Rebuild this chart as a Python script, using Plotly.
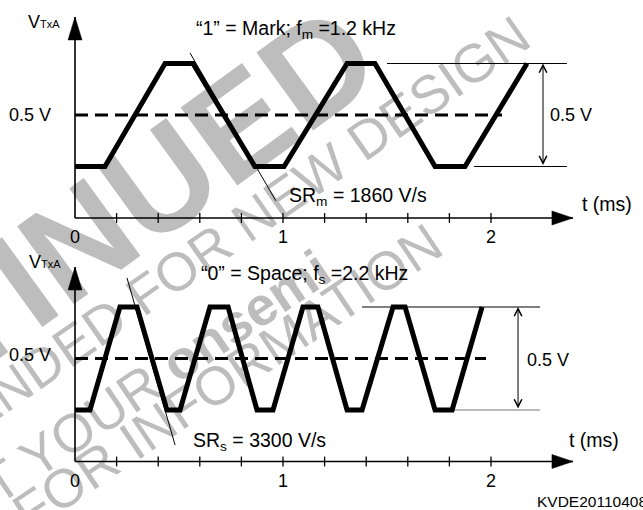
import plotly.graph_objects as go

# ---------------- data ----------------
LOW, HIGH, MID = 0.25, 0.75, 0.5

# "1" = Mark waveform (t in ms, V in volts)
T_MARK = [0, 0.144, 0.433, 0.567, 0.865, 1.005, 1.308, 1.442, 1.731, 1.875, 2.173]
V_MARK = [LOW, LOW, HIGH, HIGH, LOW, LOW, HIGH, HIGH, LOW, LOW, HIGH]

# "0" = Space waveform
T_SPACE = [0, 0.072, 0.216, 0.298, 0.442, 0.505, 0.649, 0.736, 0.875, 0.952,
           1.096, 1.168, 1.308, 1.380, 1.529, 1.587, 1.731, 1.813, 1.957]
V_SPACE = [LOW, LOW, HIGH, HIGH, LOW, LOW, HIGH, HIGH, LOW, LOW,
           HIGH, HIGH, LOW, LOW, HIGH, HIGH, LOW, LOW, HIGH]

MINOR_TICKS = [0.2, 0.4, 0.6, 0.8, 1.0, 1.2, 1.4, 1.6, 1.8, 2.0]
TICK_VALS = [0, 1, 2]
TICK_TEXT = ["0", "1", "2"]

T_AXIS_END = 2.394            # tip of the time-axis arrow
V_AXIS_TOP = [0.976, 0.944]   # tip of the voltage-axis arrow (top, bottom panel)
DASH_END = [2.053, 1.976]     # end of the 0.5 V dashed line
SR_T = [[0.553, 0.966], [0.250, 0.481]]
SR_V = [[0.801, 0.083], [0.891, 0.080]]
REF_HIGH_T = [[1.500, 2.365], [1.380, 2.236]]
REF_LOW_T = [[1.918, 2.365], [1.817, 2.236]]
SWING_T = [2.250, 2.130]

TITLES = ["\u201c1\u201d = Mark; f<sub>m</sub> =1.2 kHz",
          "\u201c0\u201d = Space; f<sub>s</sub> =2.2 kHz"]
SR_TEXT = ["SR<sub>m</sub> = 1860 V/s", "SR<sub>s</sub> = 3300 V/s"]

FONT = "Liberation Sans, Arial, Helvetica, sans-serif"
FS = 18      # axis / level labels
FT = 19.5    # titles, slew-rate notes, axis name

fig = go.Figure()

panels = [("x", "y", T_MARK, V_MARK), ("x2", "y2", T_SPACE, V_SPACE)]
for i, (xa, ya, tt, vv) in enumerate(panels):
    # dashed 0.5 V line
    fig.add_trace(go.Scatter(x=[0, DASH_END[i]], y=[MID, MID], mode="lines",
                             line=dict(color="black", width=3, dash="13px,7px"),
                             xaxis=xa, yaxis=ya, hoverinfo="skip"))
    # slew-rate tangent
    fig.add_trace(go.Scatter(x=SR_T[i], y=SR_V[i], mode="lines",
                             line=dict(color="black", width=1),
                             xaxis=xa, yaxis=ya, hoverinfo="skip"))
    # reference level lines
    fig.add_trace(go.Scatter(x=REF_HIGH_T[i], y=[HIGH, HIGH], mode="lines",
                             line=dict(color="black", width=1),
                             xaxis=xa, yaxis=ya, hoverinfo="skip"))
    fig.add_trace(go.Scatter(x=REF_LOW_T[i], y=[LOW, LOW], mode="lines",
                             line=dict(color="black" if i == 0 else "#777777", width=1),
                             xaxis=xa, yaxis=ya, hoverinfo="skip"))
    # waveform
    fig.add_trace(go.Scatter(x=tt, y=vv, mode="lines",
                             line=dict(color="black", width=5),
                             xaxis=xa, yaxis=ya, hoverinfo="skip"))
    # crossing tick marks on time axis
    fig.add_trace(go.Scatter(x=MINOR_TICKS, y=[0] * len(MINOR_TICKS), mode="markers",
                             marker=dict(symbol="line-ns", size=7,
                                         line=dict(color="black", width=1.3)),
                             xaxis=xa, yaxis=ya, hoverinfo="skip"))

    # axis lines
    fig.add_shape(type="line", xref=xa, yref=ya, x0=0, x1=T_AXIS_END, y0=0, y1=0,
                  line=dict(color="black", width=1.6), layer="above")
    fig.add_shape(type="line", xref=xa, yref=ya, x0=0, x1=0, y0=0, y1=V_AXIS_TOP[i],
                  line=dict(color="black", width=1.6), layer="above")
    # arrow heads (pixel-sized, anchored at axis ends)
    fig.add_shape(type="path", xref=xa, yref=ya, xsizemode="pixel", ysizemode="pixel",
                  xanchor=T_AXIS_END, yanchor=0, path="M0,0 L-21,7 L-21,-7 Z",
                  fillcolor="black", line=dict(color="black", width=0.5), layer="above")
    fig.add_shape(type="path", xref=xa, yref=ya, xsizemode="pixel", ysizemode="pixel",
                  xanchor=0, yanchor=V_AXIS_TOP[i], path="M0,0 L-7,-23 L7,-23 Z",
                  fillcolor="black", line=dict(color="black", width=0.5), layer="above")

    # double arrow for the 0.5 V swing
    fig.add_annotation(x=SWING_T[i], y=HIGH, ax=SWING_T[i], ay=LOW, xref=xa, yref=ya,
                       axref=xa, ayref=ya, text="", showarrow=True, arrowhead=5,
                       startarrowhead=5, arrowside="end+start", arrowsize=1.5,
                       startarrowsize=1.5, arrowwidth=1, arrowcolor="black")

# ---------------- text labels ----------------
VTXA = "V<span style='font-size:11px'>TxA</span>"
labels = [
    # (xref, yref, x, y, text, xanchor, size)
    ("x", "y", -0.149, 0.951, VTXA, "center", FS),
    ("x", "y", -0.106, 0.50, "0.5 V", "right", FS),
    ("x", "y", 1.0625, 0.913, TITLES[0], "center", FT),
    ("x", "y", 1.019, 0.102, SR_TEXT[0], "left", FT),
    ("x", "y", 2.274, 0.50, "0.5 V", "left", FS),
    ("x", "y", 2.558, 0.068, "t (ms)", "center", FT),
    ("x2", "y2", -0.144, 0.968, VTXA, "center", FS),
    ("x2", "y2", -0.106, 0.515, "0.5 V", "right", FS),
    ("x2", "y2", 1.101, 0.910, TITLES[1], "center", FT),
    ("x2", "y2", 0.558, 0.095, SR_TEXT[1], "left", FT),
    ("x2", "y2", 2.163, 0.493, "0.5 V", "left", FS),
    ("x2", "y2", 2.495, 0.104, "t (ms)", "center", FT),
]
for xr, yr, x, y, txt, xan, size in labels:
    fig.add_annotation(xref=xr, yref=yr, x=x, y=y, text=txt, showarrow=False,
                       xanchor=xan, yanchor="middle",
                       font=dict(family=FONT, size=size, color="black"))

fig.add_annotation(xref="paper", yref="paper", x=535 / 643, y=1 - 501 / 510,
                   text="KVDE20110408", showarrow=False, xanchor="left", yanchor="middle",
                   font=dict(family=FONT, size=15.5, color="black"))

# ---------------- watermark (drawn beneath the traces) ----------------
W = 643.0
H = 510.0
watermark = [
    # (centre x px, centre y px, text, size, angle)
    (-80, 340, "<b>DISCONTINUED</b>", 140, -36),
    (88, 327, "NOT RECOMMENDED FOR NEW DESIGN", 54, -35),
    (60, 435, "CONTACT YOUR <b>onsemi</b>", 54, -34),
    (20, 511, "REPRESENTATIVE FOR INFORMATION", 54, -34),
]
for cx, cy, txt, size, ang in watermark:
    px, py = cx / W, 1 - cy / H
    fig.add_shape(type="line", xref="paper", yref="paper", x0=px - 0.001, x1=px + 0.001,
                  y0=py, y1=py, line=dict(width=0, color="rgba(0,0,0,0)"), layer="below",
                  label=dict(text=txt, textangle=ang, textposition="middle",
                             xanchor="center", yanchor="middle", padding=0,
                             font=dict(family=FONT, size=size, color="#bdbdbd")))

# ---------------- axes ----------------
XR = [-75 / 208, 568 / 208]
common_x = dict(range=XR, domain=[0, 1], showgrid=False, zeroline=False, showline=False,
                tickvals=TICK_VALS, ticktext=TICK_TEXT, ticks="", ticklabelstandoff=6,
                tickfont=dict(family=FONT, size=FS, color="black"), anchor="free",
                fixedrange=True)
fig.update_layout(
    width=643, height=510, autosize=False,
    margin=dict(l=0, r=0, t=0, b=0, pad=0),
    paper_bgcolor="white", plot_bgcolor="rgba(0,0,0,0)",
    showlegend=False,
    xaxis=dict(common_x, position=1 - 218 / 510),
    xaxis2=dict(common_x, position=1 - 461.5 / 510),
    yaxis=dict(domain=[1 - 250 / 510, 1], range=[-32 / 206, 218 / 206], visible=False,
               fixedrange=True),
    yaxis2=dict(domain=[0, 1 - 250 / 510], range=[(461.5 - 510) / 206, (461.5 - 250) / 206],
                visible=False, fixedrange=True),
)

fig.write_html("out.html", config={"displayModeBar": False},
               post_script="document.body.style.margin='0';document.body.style.padding='0';")
